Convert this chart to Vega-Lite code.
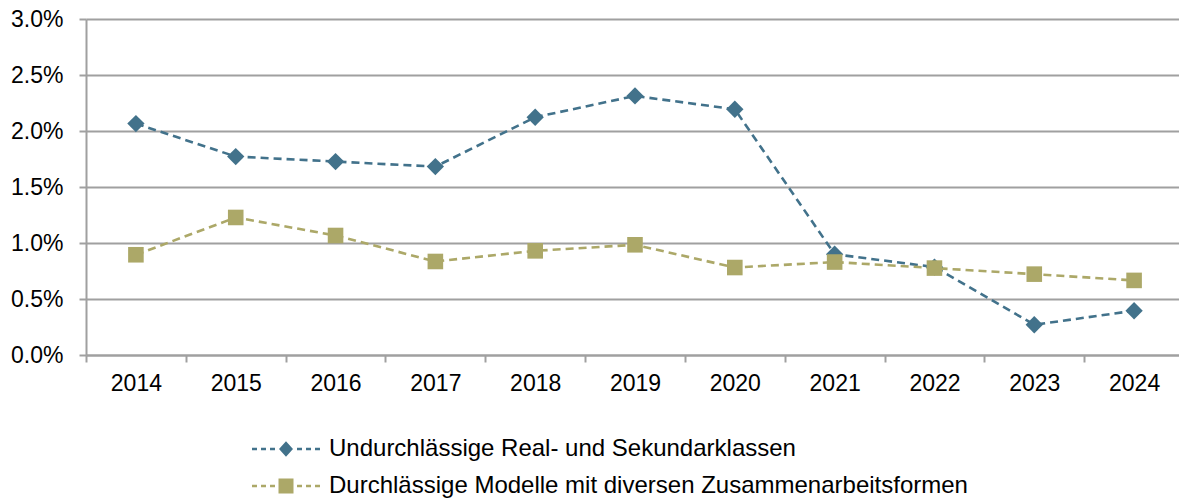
{
  "$schema": "https://vega.github.io/schema/vega-lite/v6.json",
  "autosize": {"type": "none"},
  "padding": {"left": 86, "top": 19, "right": 0, "bottom": 144},
  "width": 1093,
  "height": 336,
  "background": "#ffffff",
  "config": {
    "font": "Liberation Sans",
    "view": {"stroke": null},
    "axis": {"labelColor": "#000000", "labelFontSize": 23, "domainColor": "#a0a0a0", "tickColor": "#a0a0a0", "domainWidth": 2, "tickWidth": 2, "gridColor": "#a0a0a0", "gridWidth": 2}
  },
  "data": {"values": [
    {"year": "2014", "series": "Undurchlässige Real- und Sekundarklassen", "value": 0.02066},
    {"year": "2015", "series": "Undurchlässige Real- und Sekundarklassen", "value": 0.01772},
    {"year": "2016", "series": "Undurchlässige Real- und Sekundarklassen", "value": 0.01727},
    {"year": "2017", "series": "Undurchlässige Real- und Sekundarklassen", "value": 0.01682},
    {"year": "2018", "series": "Undurchlässige Real- und Sekundarklassen", "value": 0.02123},
    {"year": "2019", "series": "Undurchlässige Real- und Sekundarklassen", "value": 0.02313},
    {"year": "2020", "series": "Undurchlässige Real- und Sekundarklassen", "value": 0.02194},
    {"year": "2021", "series": "Undurchlässige Real- und Sekundarklassen", "value": 0.00900},
    {"year": "2022", "series": "Undurchlässige Real- und Sekundarklassen", "value": 0.00785},
    {"year": "2023", "series": "Undurchlässige Real- und Sekundarklassen", "value": 0.00270},
    {"year": "2024", "series": "Undurchlässige Real- und Sekundarklassen", "value": 0.00395},
    {"year": "2014", "series": "Durchlässige Modelle mit diversen Zusammenarbeitsformen", "value": 0.00895},
    {"year": "2015", "series": "Durchlässige Modelle mit diversen Zusammenarbeitsformen", "value": 0.01228},
    {"year": "2016", "series": "Durchlässige Modelle mit diversen Zusammenarbeitsformen", "value": 0.01067},
    {"year": "2017", "series": "Durchlässige Modelle mit diversen Zusammenarbeitsformen", "value": 0.00835},
    {"year": "2018", "series": "Durchlässige Modelle mit diversen Zusammenarbeitsformen", "value": 0.00930},
    {"year": "2019", "series": "Durchlässige Modelle mit diversen Zusammenarbeitsformen", "value": 0.00984},
    {"year": "2020", "series": "Durchlässige Modelle mit diversen Zusammenarbeitsformen", "value": 0.00781},
    {"year": "2021", "series": "Durchlässige Modelle mit diversen Zusammenarbeitsformen", "value": 0.00830},
    {"year": "2022", "series": "Durchlässige Modelle mit diversen Zusammenarbeitsformen", "value": 0.00776},
    {"year": "2023", "series": "Durchlässige Modelle mit diversen Zusammenarbeitsformen", "value": 0.00722},
    {"year": "2024", "series": "Durchlässige Modelle mit diversen Zusammenarbeitsformen", "value": 0.00666}
  ]},
  "encoding": {
    "x": {"field": "year", "type": "nominal", "sort": null,
      "scale": {"type": "band", "paddingInner": 0, "paddingOuter": 0, "range": [0, 1098]},
      "axis": {"title": null, "labelAngle": 0, "tickBand": "extent", "tickSize": 7, "labelPadding": 10, "grid": false}},
    "y": {"field": "value", "type": "quantitative",
      "scale": {"domain": [0, 0.03], "nice": false},
      "axis": {"title": null, "values": [0, 0.005, 0.01, 0.015, 0.02, 0.025, 0.03], "format": ".1%", "tickSize": 7, "labelPadding": 16, "grid": true}}
  },
  "layer": [
    {
      "mark": {"type": "line", "strokeDash": [8, 5], "strokeWidth": 2.6},
      "encoding": {
        "color": {"field": "series", "type": "nominal",
          "scale": {"domain": ["Undurchlässige Real- und Sekundarklassen", "Durchlässige Modelle mit diversen Zusammenarbeitsformen"], "range": ["#42728b", "#aca868"]},
          "legend": {
            "title": null, "orient": "none", "legendX": 188, "legendY": 418, "direction": "vertical",
            "symbolSize": 576, "symbolStrokeWidth": 0, "labelFontSize": 24, "labelColor": "#000000", "labelOffset": 31, "rowPadding": 13, "labelLimit": 1000, "padding": 0,
            "encode": {"symbols": {"update": {
              "shape": {"signal": "datum.value === 'Undurchlässige Real- und Sekundarklassen' ? 'M-2.833,-0.1125H-2.417V0.1125H-2.833Z M-2.083,-0.1125H-1.667V0.1125H-2.083Z M-1.333,-0.1125H-0.917V0.1125H-1.333Z M0.917,-0.1125H1.333V0.1125H0.917Z M1.667,-0.1125H2.083V0.1125H1.667Z M2.417,-0.1125H2.833V0.1125H2.417Z M0,-0.6375L0.583,0L0,0.6375L-0.583,0Z' : 'M-2.833,-0.1125H-2.417V0.1125H-2.833Z M-2.083,-0.1125H-1.667V0.1125H-2.083Z M-1.333,-0.1125H-0.917V0.1125H-1.333Z M0.917,-0.1125H1.333V0.1125H0.917Z M1.667,-0.1125H2.083V0.1125H1.667Z M2.417,-0.1125H2.833V0.1125H2.417Z M-0.625,-0.625H0.625V0.625H-0.625Z'"},
              "fill": {"scale": "color", "field": "value"},
              "stroke": {"value": "transparent"},
              "strokeDash": {"value": []},
              "opacity": {"value": 1},
              "fillOpacity": {"value": 1}
            }}}
          }}
      }
    },
    {
      "transform": [{"filter": "datum.series === 'Undurchlässige Real- und Sekundarklassen'"}],
      "mark": {"type": "point", "filled": true, "opacity": 1, "size": 300, "strokeWidth": 0, "color": "#42728b", "shape": "M0,-1L1,0L0,1L-1,0Z"}
    },
    {
      "transform": [{"filter": "datum.series === 'Durchlässige Modelle mit diversen Zusammenarbeitsformen'"}],
      "mark": {"type": "point", "filled": true, "opacity": 1, "size": 300, "strokeWidth": 0, "color": "#aca868", "shape": "M-0.9,-0.9H0.9V0.9H-0.9Z"}
    }
  ]
}
